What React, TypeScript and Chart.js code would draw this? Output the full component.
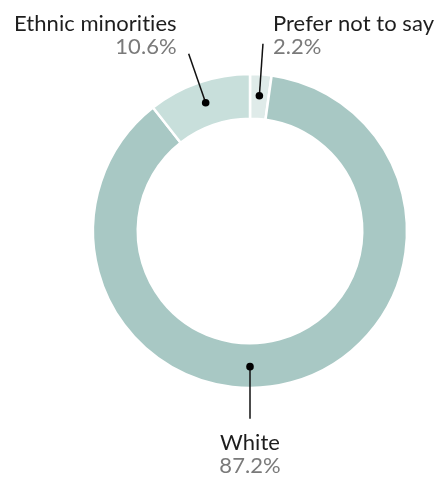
import React, { useEffect, useRef } from "react";
import { Chart, registerables } from "chart.js";

Chart.register(...registerables);

const categories = ["Prefer not to say", "White", "Ethnic minorities"];
const values = [2.2, 87.2, 10.6];
const valueLabels = ["2.2%", "87.2%", "10.6%"];
const colors = ["#dfebe9", "#a8c8c4", "#c8dfdb"];

// label placement style per slice: anchor angle (null = slice middle), alignment, offsets
const labelStyle = [
  { angle: null as number | null, align: "left", dx: 10, dy: 10 },
  { angle: Math.PI / 2, align: "center", dx: 0, dy: 54 },
  { angle: null as number | null, align: "right", dx: -12, dy: 0 },
];

const FONT = "Lato, 'Noto Sans', sans-serif";

const leaderPlugin = {
  id: "leaders",
  afterDatasetsDraw(chart: any) {
    const ctx = chart.ctx;
    const meta = chart.getDatasetMeta(0);
    meta.data.forEach((arc: any, i: number) => {
      const p = arc.getProps(["x", "y", "startAngle", "endAngle", "innerRadius", "outerRadius"], true);
      const st = labelStyle[i];
      const a = st.angle != null ? st.angle : (p.startAngle + p.endAngle) / 2;
      const rMid = (p.innerRadius + p.outerRadius) / 2 + 1;
      const rEnd = rMid + 52;
      const x0 = p.x + Math.cos(a) * rMid;
      const y0 = p.y + Math.sin(a) * rMid;
      const x1 = p.x + Math.cos(a) * rEnd;
      const y1 = p.y + Math.sin(a) * rEnd;
      ctx.save();
      ctx.strokeStyle = "#111";
      ctx.lineWidth = 1.5;
      ctx.beginPath();
      ctx.moveTo(x0, y0);
      ctx.lineTo(x1, y1);
      ctx.stroke();
      ctx.fillStyle = "#000";
      ctx.beginPath();
      ctx.arc(x0, y0, 3.8, 0, Math.PI * 2);
      ctx.fill();
      ctx.textAlign = st.align as CanvasTextAlign;
      ctx.textBaseline = "alphabetic";
      ctx.font = `22px ${FONT}`;
      try {
        (ctx as any).letterSpacing = "0.05px";
      } catch (e) {}
      const tx = x1 + st.dx;
      const pctY = y1 + st.dy;
      ctx.fillStyle = "#7a7a7a";
      ctx.fillText(valueLabels[i], tx, pctY);
      ctx.fillStyle = "#1e1e1e";
      ctx.fillText(categories[i], tx, pctY - 23);
      ctx.restore();
    });
  },
};

export default function App() {
  const ref = useRef<HTMLCanvasElement>(null);
  useEffect(() => {
    if (!ref.current) return;
    const chart = new Chart(ref.current, {
      type: "doughnut",
      data: {
        labels: categories,
        datasets: [
          {
            data: values,
            backgroundColor: colors,
            borderColor: "#ffffff",
            borderWidth: 2.5,
            hoverOffset: 0,
          },
        ],
      },
      options: {
        responsive: false,
        animation: false,
        radius: 157,
        cutout: "71.5%",
        layout: { padding: { left: 63, right: 0, top: 0, bottom: 15 } },
        plugins: { legend: { display: false }, tooltip: { enabled: false } },
        events: [],
      } as any,
      plugins: [leaderPlugin],
    });
    return () => chart.destroy();
  }, []);
  return (
    <div style={{ position: "absolute", left: 0, top: 0, width: 437, height: 477, background: "#fff" }}>
      <canvas ref={ref} width={437} height={477} style={{ display: "block" }} />
    </div>
  );
}
